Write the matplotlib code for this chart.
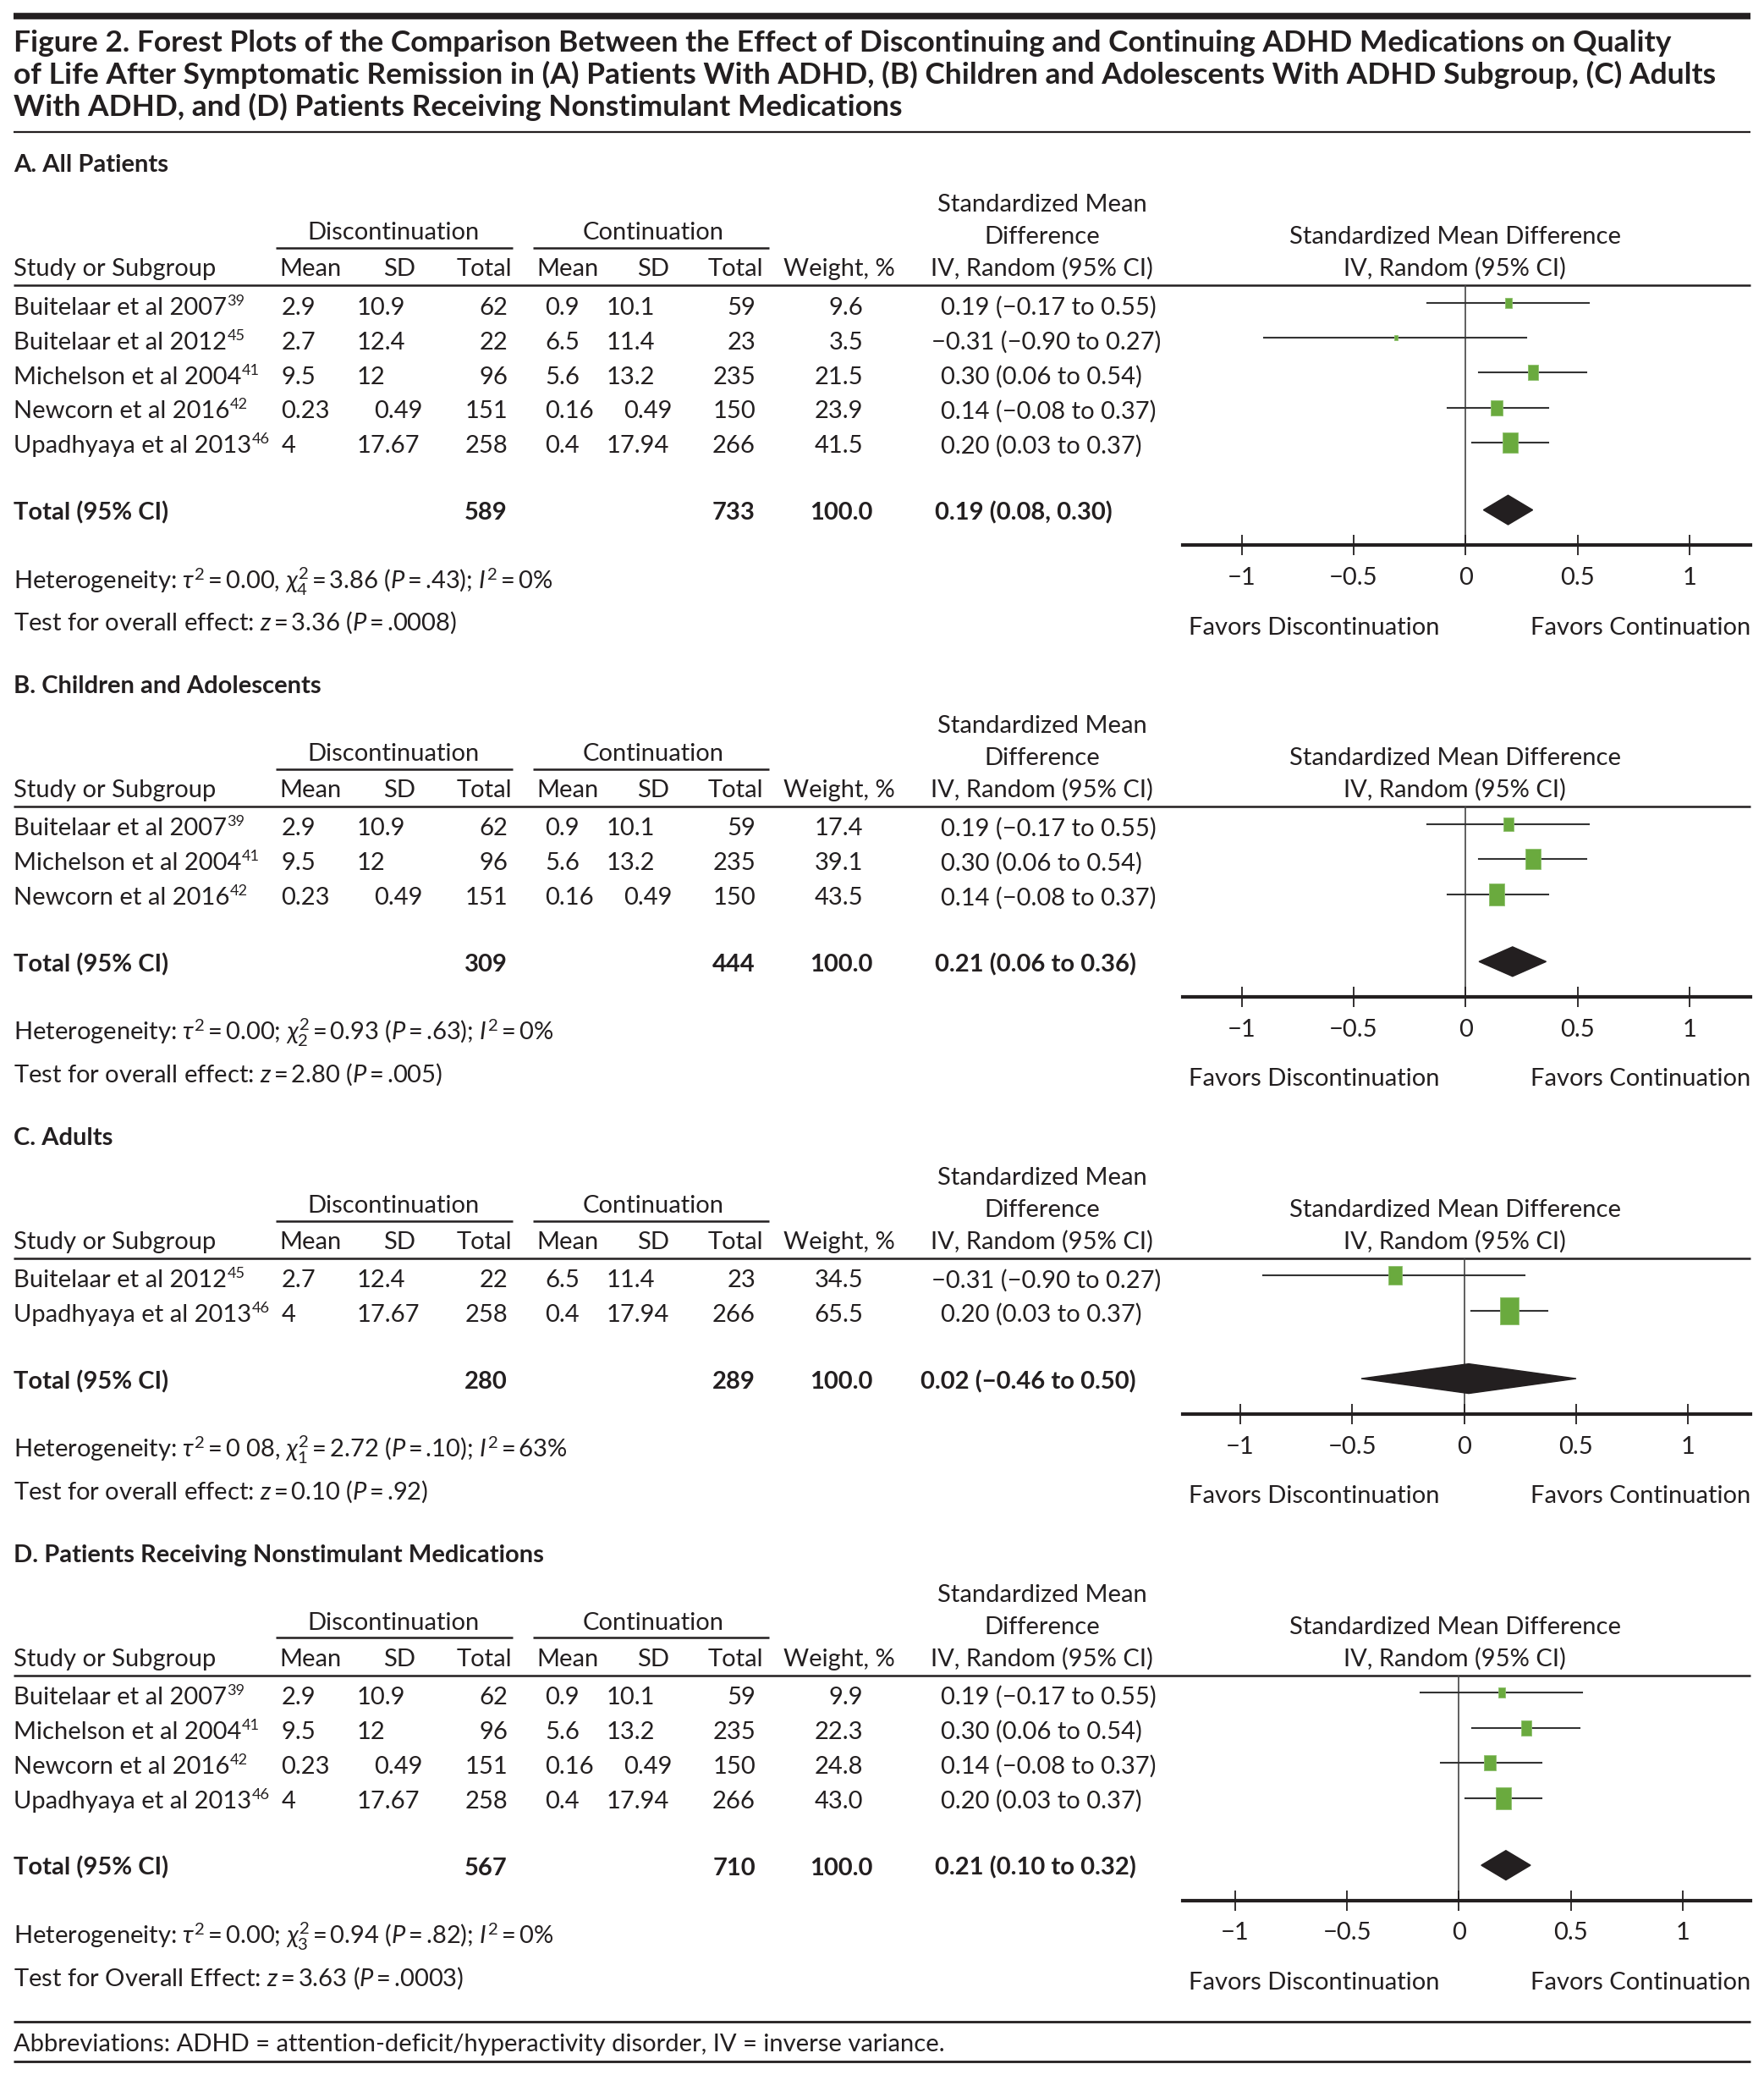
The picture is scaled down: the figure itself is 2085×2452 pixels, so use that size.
import numpy as np
import matplotlib
matplotlib.use("Agg")
import matplotlib.pyplot as plt
from matplotlib.patches import Polygon

plt.rcParams['font.family'] = ['Lato', 'DejaVu Sans']
plt.rcParams['mathtext.fontset'] = 'custom'
plt.rcParams['mathtext.rm'] = 'Lato'
plt.rcParams['mathtext.it'] = 'Lato:italic'
plt.rcParams['mathtext.bf'] = 'Lato:bold'

# ---- data ----
study_names = ["Buitelaar et al 2007", "Buitelaar et al 2012", "Michelson et al 2004",
               "Newcorn et al 2016", "Upadhyaya et al 2013"]
study_refs = ["39", "45", "41", "42", "46"]
disc_mean = ["2.9", "2.7", "9.5", "0.23", "4"]
disc_sd = ["10.9", "12.4", "12", "0.49", "17.67"]
disc_n = [62, 22, 96, 151, 258]
cont_mean = ["0.9", "6.5", "5.6", "0.16", "0.4"]
cont_sd = ["10.1", "11.4", "13.2", "0.49", "17.94"]
cont_n = [59, 23, 235, 150, 266]
smd = [0.19, -0.31, 0.30, 0.14, 0.20]
smd_lo = [-0.17, -0.90, 0.06, -0.08, 0.03]
smd_hi = [0.55, 0.27, 0.54, 0.37, 0.37]

panel_titles = ["A. All Patients", "B. Children and Adolescents", "C. Adults",
                "D. Patients Receiving Nonstimulant Medications"]
panel_members = [[0, 1, 2, 3, 4], [0, 2, 3], [1, 4], [0, 2, 3, 4]]
panel_weights = [[9.6, 3.5, 21.5, 23.9, 41.5], [17.4, 39.1, 43.5], [34.5, 65.5],
                 [9.9, 22.3, 24.8, 43.0]]
total_disc = [589, 309, 280, 567]
total_cont = [733, 444, 289, 710]
pooled_est = [0.19, 0.21, 0.02, 0.21]
pooled_lo = [0.08, 0.06, -0.46, 0.10]
pooled_hi = [0.30, 0.36, 0.50, 0.32]
pooled_sep = [", ", " to ", " to ", " to "]
het_text = [
    r"Heterogeneity: $\tau^2$ = 0.00, $\chi^2_4$ = 3.86 ($P$ = .43); $I^2$ = 0%",
    r"Heterogeneity: $\tau^2$ = 0.00; $\chi^2_2$ = 0.93 ($P$ = .63); $I^2$ = 0%",
    r"Heterogeneity: $\tau^2$ = 0 08, $\chi^2_1$ = 2.72 ($P$ = .10); $I^2$ = 63%",
    r"Heterogeneity: $\tau^2$ = 0.00; $\chi^2_3$ = 0.94 ($P$ = .82); $I^2$ = 0%",
]
effect_text = [
    r"Test for overall effect: $z$ = 3.36 ($P$ = .0008)",
    r"Test for overall effect: $z$ = 2.80 ($P$ = .005)",
    r"Test for overall effect: $z$ = 0.10 ($P$ = .92)",
    r"Test for Overall Effect: $z$ = 3.63 ($P$ = .0003)",
]
axis_ticks = [-1, -0.5, 0, 0.5, 1]
axis_ticklabels = ["\u22121", "\u22120.5", "0", "0.5", "1"]

title_lines = [
    "Figure 2. Forest Plots of the Comparison Between the Effect of Discontinuing and Continuing ADHD Medications on Quality",
    "of Life After Symptomatic Remission in (A) Patients With ADHD, (B) Children and Adolescents With ADHD Subgroup, (C) Adults",
    "With ADHD, and (D) Patients Receiving Nonstimulant Medications",
]
footnote = "Abbreviations: ADHD = attention-deficit/hyperactivity disorder, IV = inverse variance."

# ---- layout (reference pixel grid 1324 x 1557) ----
W, H = 1324, 1557
FS = 21
TITLE_FS = 25.5
DARK = "#231f20"
GREEN = "#6aaa3e"
zero_x = [1100, 1100, 1099, 1095]
unit_px = 168
THIN = "\u2009"

def fmt(v):
    return f"{v:.2f}".replace("-", "\u2212")

def tighten(s):
    return s.replace(" = ", THIN + "=" + THIN)

fig = plt.figure(figsize=(20.85, 24.52), dpi=100)
bg = fig.add_axes([0, 0, 1, 1])
bg.set_xlim(0, W)
bg.set_ylim(H, 0)
bg.axis("off")
renderer = fig.canvas.get_renderer()

def txt(x, y, s, ha="left", bold=False, size=FS, **kw):
    return bg.text(x, y + 7, s, ha=ha, va="baseline", fontsize=size,
                   fontweight="bold" if bold else "normal", color=DARK, **kw)

def rule(x0, x1, y, lw):
    bg.plot([x0, x1], [y, y], color=DARK, lw=lw, solid_capstyle="butt")

def sd_x(base, val):
    # values below 1 sit a little further right in the source table
    return base + 13 if val.startswith("0.") else base

# title block
rule(10, 1314, 12, 5.5)
for k, line in enumerate(title_lines):
    txt(10, 32 + 24 * k, line, bold=True, size=TITLE_FS)
rule(10, 1314, 99, 1.6)

L = 122
for p in range(4):
    members = panel_members[p]
    n = len(members)
    row0 = L + 107
    total_y = row0 + 26 * (n - 1) + 50
    axis_y = total_y + 26
    rule_y = L + 92

    txt(10, L, panel_titles[p], bold=True)
    # headers
    txt(782, L + 30, "Standardized Mean", ha="center")
    txt(782, L + 54, "Difference", ha="center")
    txt(295, L + 51, "Discontinuation", ha="center")
    txt(490, L + 51, "Continuation", ha="center")
    rule(207, 385, L + 64, 1.8)
    rule(400, 577, L + 64, 1.8)
    hy = L + 78
    txt(10, hy, "Study or Subgroup")
    txt(233, hy, "Mean", ha="center")
    txt(300, hy, "SD", ha="center")
    txt(384, hy, "Total", ha="right")
    txt(426, hy, "Mean", ha="center")
    txt(490, hy, "SD", ha="center")
    txt(573, hy, "Total", ha="right")
    txt(630, hy, "Weight, %", ha="center")
    txt(782, hy, "IV, Random (95% CI)", ha="center")
    txt(1092, L + 54, "Standardized Mean Difference", ha="center")
    txt(1092, hy, "IV, Random (95% CI)", ha="center")
    rule(10, 1314, rule_y, 1.8)

    # study rows
    for r, s in enumerate(members):
        y = row0 + 26 * r
        t = txt(10, y, study_names[s])
        bb = t.get_window_extent(renderer)
        x_end = bg.transData.inverted().transform((bb.x1, bb.y0))[0]
        txt(x_end + 0.5, y - 7, study_refs[s], size=FS * 0.62)
        txt(211, y, disc_mean[s])
        txt(sd_x(268, disc_sd[s]), y, disc_sd[s])
        txt(381, y, str(disc_n[s]), ha="right")
        txt(409, y, cont_mean[s])
        txt(sd_x(455, cont_sd[s]), y, cont_sd[s])
        txt(567, y, str(cont_n[s]), ha="right")
        txt(648, y, f"{panel_weights[p][r]:.1f}", ha="right")
        smd_s = f"{fmt(smd[s])} ({fmt(smd_lo[s])} to {fmt(smd_hi[s])})"
        txt(699 if smd[s] < 0 else 706, y, smd_s)

    # total row
    txt(10, total_y, "Total (95% CI)", bold=True)
    txt(381, total_y, str(total_disc[p]), ha="right", bold=True)
    txt(567, total_y, str(total_cont[p]), ha="right", bold=True)
    txt(655, total_y, "100.0", ha="right", bold=True)
    pooled_s = f"{fmt(pooled_est[p])} ({fmt(pooled_lo[p])}{pooled_sep[p]}{fmt(pooled_hi[p])})"
    txt(691 if pooled_lo[p] < 0 else 702, total_y, pooled_s, bold=True)

    txt(10, total_y + 52, tighten(het_text[p]))
    txt(10, total_y + 83, tighten(effect_text[p]))

    # forest plot
    zx = zero_x[p]
    ax = fig.add_axes([888 / W, 1 - axis_y / H, (1314 - 888) / W, (axis_y - rule_y) / H])
    ax.set_xlim((888 - zx) / unit_px, (1314 - zx) / unit_px)
    ax.set_ylim((axis_y - row0) / 26, (rule_y + 2 - row0) / 26)
    ax.patch.set_alpha(0)
    for side in ("top", "left", "right"):
        ax.spines[side].set_visible(False)
    ax.spines["bottom"].set_linewidth(3.0)
    ax.spines["bottom"].set_color(DARK)
    ax.set_yticks([])
    ax.set_xticks(axis_ticks)
    ax.set_xticklabels(axis_ticklabels, fontsize=FS, color=DARK)
    ax.tick_params(axis="x", direction="inout", length=17, width=1.3, color=DARK, pad=10)
    ax.axvline(0, color="#444444", lw=1.2, zorder=1)

    box_w = [(-0.36, -0.5), (0.36, -0.5), (0.36, 0.5), (-0.36, 0.5), (-0.36, -0.5)]
    for r, s in enumerate(members):
        ax.plot([smd_lo[s], smd_hi[s]], [r, r], color="#333333", lw=1.5, zorder=2)
        h_pt = 3.2 * panel_weights[p][r] ** 0.55 * 0.72
        ax.plot([smd[s]], [r], marker=box_w, ms=h_pt, color=GREEN,
                mec="#8dc06c", mew=0.6, linestyle="none", zorder=3)

    ty = n + 0.92
    dh = 0.42
    ax.add_patch(Polygon([(pooled_lo[p], ty), (pooled_est[p], ty - dh),
                          (pooled_hi[p], ty), (pooled_est[p], ty + dh)],
                         closed=True, color=DARK, zorder=4))

    txt(892, axis_y + 60, "Favors Discontinuation")
    txt(1314, axis_y + 60, "Favors Continuation", ha="right")

    L = total_y + 83 + 47

end_y = L - 47
rule(10, 1314, end_y + 34, 2.0)
txt(10, end_y + 49, footnote)
rule(10, 1314, end_y + 64, 2.0)

fig.savefig("out.png", dpi=100)
